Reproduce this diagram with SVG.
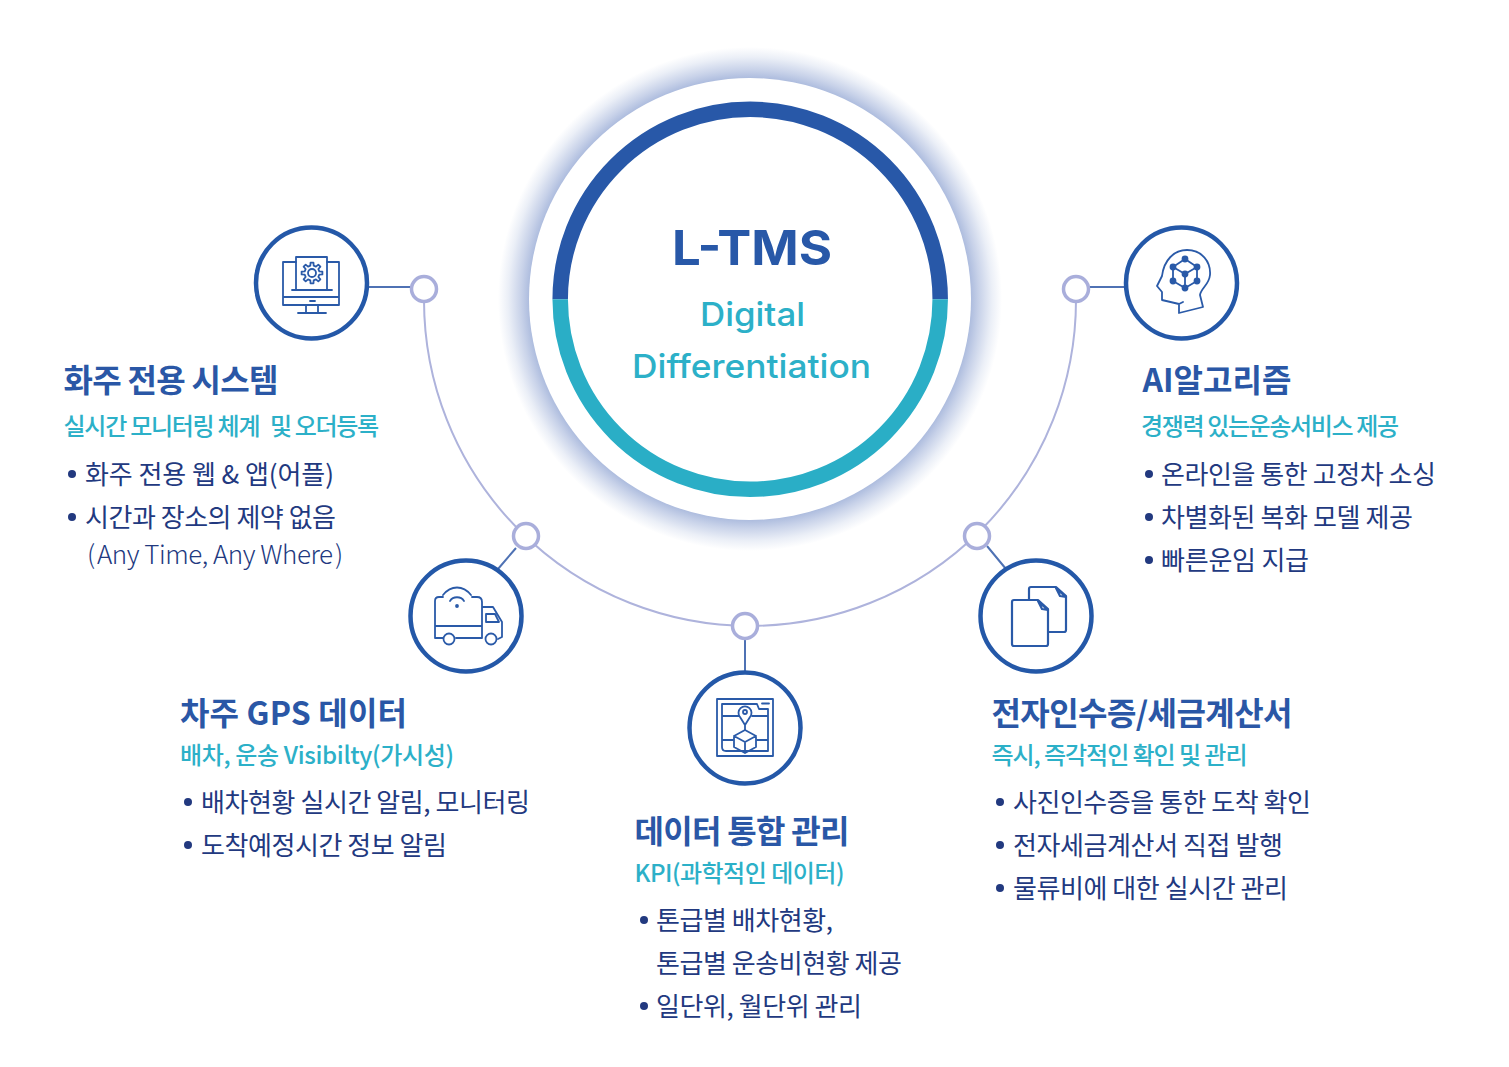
<svg xmlns="http://www.w3.org/2000/svg" width="1509" height="1067" viewBox="0 0 1509 1067">
<style>
text{font-family:"Noto Sans CJK KR","Noto Sans",sans-serif;white-space:pre}
.h{font-size:32px;font-weight:700;fill:#2a57a6}
.s{font-size:24px;font-weight:500;fill:#2cb0c8}
.b{font-size:26px;font-weight:400;fill:#22397f}
.d{fill:#22397f}
.ring{fill:#fff;stroke:#2458a8;stroke-width:4.5}
.hub{fill:#fff;stroke:#a9aedb;stroke-width:3.5}
.lk{fill:none;stroke:#4f72b4;stroke-width:2}
.ic{fill:none;stroke:#2a5aa8;stroke-width:1.8;stroke-linejoin:round;stroke-linecap:round}
.t{font-family:Inter,"Noto Sans",sans-serif}
</style>
<defs>
<radialGradient id="glow" cx="750" cy="299" r="252" gradientUnits="userSpaceOnUse">
<stop offset="0.87" stop-color="#a8b8dc"/>
<stop offset="0.91" stop-color="#c8d2e9"/>
<stop offset="0.96" stop-color="#ebeff7"/>
<stop offset="1" stop-color="#ffffff"/>
</radialGradient>
</defs>
<rect width="1509" height="1067" fill="#fff"/>
<g id="connectors">
<path d="M424 289V300A326 326 0 0 0 1076 300V289" fill="none" stroke="#aeb3dc" stroke-width="2"/>
<path class="lk" d="M368 287H412M1088 287H1125M516 548L498 569M987 546L1006 569M745 640V671"/>
</g>
<g id="hub">
<circle cx="750" cy="299" r="252" fill="url(#glow)"/>
<circle cx="750" cy="299" r="221" fill="#fff"/>
<path d="M560.200 299.300A190 190 0 0 1 940.200 299.300" fill="none" stroke="#2858a8" stroke-width="15.500"/>
<path d="M560.200 299.300A190 190 0 0 0 940.200 299.300" fill="none" stroke="#2aaec6" stroke-width="15.500"/>
<text class="t" x="672" y="265" font-size="48" font-weight="700" fill="#2858a8" textLength="160" lengthAdjust="spacingAndGlyphs">L-TMS</text>
<text class="t" x="700" y="326" font-size="33" font-weight="500" fill="#2cb0c8" textLength="105" lengthAdjust="spacingAndGlyphs">Digital</text>
<text class="t" x="632" y="378" font-size="33" font-weight="500" fill="#2cb0c8" textLength="239" lengthAdjust="spacingAndGlyphs">Differentiation</text>
</g>
<g id="hub-points">
<circle class="hub" cx="424" cy="289" r="12.500"/>
<circle class="hub" cx="1076" cy="289" r="12.500"/>
<circle class="hub" cx="526" cy="536" r="12.500"/>
<circle class="hub" cx="977" cy="536" r="12.500"/>
<circle class="hub" cx="745" cy="626" r="12.500"/>
</g>
<g id="node-shipper">
<circle class="ring" cx="311.500" cy="283" r="55.500"/>
<g class="ic">
<path d="M296 262H283V305H339V262H327M283 297H339M306 305V313M318 305V313M298 313H326M310 301H315"/>
<path d="M296 290V257H327V290M292 290H332"/>
<path transform="translate(312 273)" d="M7.31-1.69L10.4-1.46V1.46L7.31 1.69L6.36 3.97L8.39 6.32L6.32 8.39L3.97 6.36L1.69 7.31L1.46 10.4H-1.46L-1.69 7.31L-3.97 6.36L-6.32 8.39L-8.39 6.32L-6.36 3.97L-7.31 1.69L-10.4 1.46V-1.46L-7.31-1.69L-6.36-3.97L-8.39-6.32L-6.32-8.39L-3.97-6.36L-1.69-7.31L-1.46-10.4H1.46L1.69-7.31L3.97-6.36L6.32-8.39L8.39-6.32L6.36-3.97Z"/>
<circle cx="312" cy="273" r="4"/>
</g>
<text class="h" x="63.500" y="392" textLength="215">화주 전용 시스템</text>
<text class="s" x="63.500" y="435"><tspan textLength="197">실시간 모니터링 체계</tspan><tspan x="270" textLength="109">및 오더등록</tspan></text>
<circle class="d" cx="72" cy="474" r="4"/>
<text class="b" x="85" y="484" textLength="249">화주 전용 웹 &amp; 앱(어플)</text>
<circle class="d" cx="72" cy="517" r="4"/>
<text class="b" x="85" y="527" textLength="251">시간과 장소의 제약 없음</text>
<text class="b" y="564" style="font-weight:300"><tspan x="87">(</tspan><tspan x="97" textLength="236">Any Time, Any Where</tspan><tspan x="335">)</tspan></text>
</g>
<g id="node-ai">
<circle class="ring" cx="1181.500" cy="283" r="55.500"/>
<g class="ic">
<path d="M1183 302L1179 304L1162 300V292L1157 286L1162 276C1164 260 1174 250 1187 250C1202 250 1211 262 1210 275C1209 285 1201 288 1200 295L1203 307L1179 313V305"/>
<path d="M1185 259L1197 267V281L1185 288L1173 281V267ZM1173 267L1185 274L1197 267M1185 274V288"/>
<g style="fill:#2a5aa8"><circle cx="1185" cy="259" r="2.500"/><circle cx="1197" cy="267" r="2.500"/><circle cx="1197" cy="281" r="2.500"/><circle cx="1185" cy="288" r="2.500"/><circle cx="1173" cy="281" r="2.500"/><circle cx="1173" cy="267" r="2.500"/><circle cx="1185" cy="274" r="2.500"/></g>
</g>
<text class="h" x="1142.500" y="392" textLength="149">AI알고리즘</text>
<text class="s" x="1141" y="435" textLength="258">경쟁력 있는운송서비스 제공</text>
<circle class="d" cx="1149" cy="474" r="4"/>
<text class="b" x="1161" y="484" textLength="275">온라인을 통한 고정차 소싱</text>
<circle class="d" cx="1149" cy="517" r="4"/>
<text class="b" x="1161" y="527" textLength="252">차별화된 복화 모델 제공</text>
<circle class="d" cx="1149" cy="560" r="4"/>
<text class="b" x="1161" y="570" textLength="148">빠른운임 지급</text>
</g>
<g id="node-gps">
<circle class="ring" cx="466" cy="616" r="55.500"/>
<g class="ic">
<path d="M443 597H439C436 597 435 599 435 601V638H443M435 626H481M482 638H456M477 638H482V602C482 599 480 597 477 597H472M482 607H493L502 622V637L498 639M486 614H495L499 622H486Z"/>
<circle cx="449" cy="639" r="5.500"/><circle cx="491" cy="639" r="5.500"/>
<path d="M443 595C451 585 463 585 471 595M450 601C453 596 461 596 464 601"/>
<circle cx="457" cy="606" r="1"/>
</g>
<text class="h" x="180" y="725" textLength="227">차주 GPS 데이터</text>
<text class="s" x="180" y="764" textLength="274">배차, 운송 Visibilty(가시성)</text>
<circle class="d" cx="188" cy="802" r="4"/>
<text class="b" x="201" y="812" textLength="329">배차현황 실시간 알림, 모니터링</text>
<circle class="d" cx="188" cy="845" r="4"/>
<text class="b" x="201" y="855" textLength="246">도착예정시간 정보 알림</text>
</g>
<g id="node-data">
<circle class="ring" cx="745" cy="728" r="55.500"/>
<g class="ic">
<path d="M717 699H773V756H717Z"/>
<path d="M757 704H722V747C722 750 723 751 726 751H768V709H759ZM762 703.500H769M722 716H739M752 716H768M722 740H733M757 740H768"/>
<path d="M745 725L740 717A6.500 6.500 0 1 1 750 717ZM745 725V730"/>
<circle cx="745" cy="712" r="2"/>
<path d="M745 730L756 736V747L745 753L734 747V736ZM734 736L745 742L756 736M745 742V753"/>
</g>
<text class="h" x="634.500" y="843" textLength="215">데이터 통합 관리</text>
<text class="s" x="634.500" y="882" textLength="210">KPI(과학적인 데이터)</text>
<circle class="d" cx="644" cy="920" r="4"/>
<text class="b" x="656" y="930" textLength="177">톤급별 배차현황,</text>
<text class="b" x="656" y="973" textLength="246">톤급별 운송비현황 제공</text>
<circle class="d" cx="644" cy="1006" r="4"/>
<text class="b" x="656" y="1016" textLength="206">일단위, 월단위 관리</text>
</g>
<g id="node-pod">
<circle class="ring" cx="1036" cy="616" r="55.500"/>
<g class="ic" style="stroke-width:2.200">
<path d="M1029 600V589C1029 588 1030 587 1031 587H1056L1066 596V630C1066 632 1065 632 1064 632H1049"/>
<path d="M1056 588L1060 596L1066 597L1059 591Z"/>
<path d="M1012 602C1012 601 1013 600 1014 600H1038L1048 609V644C1048 645 1047 646 1046 646H1014C1013 646 1012 645 1012 644Z"/>
<path d="M1038 601L1042 609L1048 610L1041 604Z"/>
</g>
<text class="h" x="991.500" y="725" textLength="301">전자인수증/세금계산서</text>
<text class="s" x="991.500" y="764" textLength="256">즉시, 즉각적인 확인 및 관리</text>
<circle class="d" cx="1000" cy="802" r="4"/>
<text class="b" x="1013" y="812" textLength="298">사진인수증을 통한 도착 확인</text>
<circle class="d" cx="1000" cy="845" r="4"/>
<text class="b" x="1013" y="855" textLength="270">전자세금계산서 직접 발행</text>
<circle class="d" cx="1000" cy="888" r="4"/>
<text class="b" x="1013" y="898" textLength="275">물류비에 대한 실시간 관리</text>
</g>
</svg>
